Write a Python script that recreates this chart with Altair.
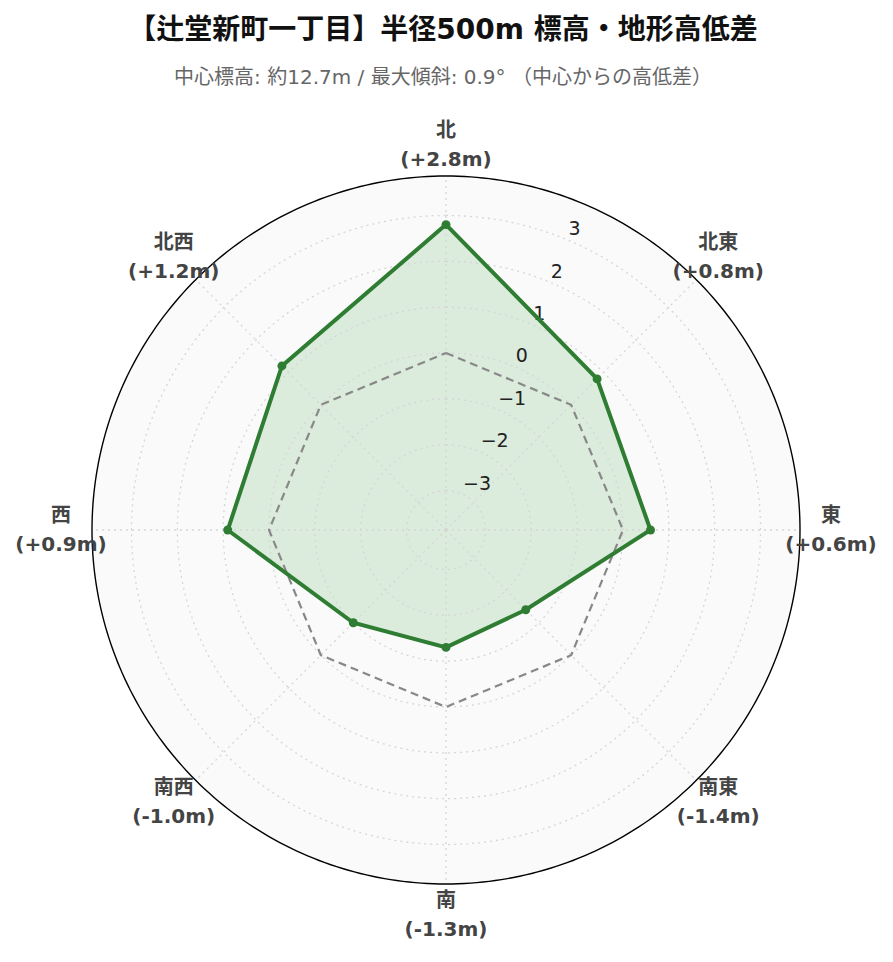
import altair as alt
import pandas as pd

# ---- data ----
directions = ["北", "北東", "東", "南東", "南", "南西", "西", "北西"]
heights = [2.8, 0.8, 0.6, -1.4, -1.3, -1.0, 0.9, 1.2]
radial_ticks = [-3, -2, -1, 0, 1, 2, 3]
radial_tick_labels = ["−3", "−2", "−1", "0", "1", "2", "3"]
title_text = "【辻堂新町一丁目】半径500m 標高・地形高低差"
subtitle_text = "中心標高: 約12.7m / 最大傾斜: 0.9° （中心からの高低差）"

# ---- polar frame ----
R_MIN, R_MAX = -3.86, 3.86
SPAN = R_MAX - R_MIN
SIZE = 708
LABEL_R = SPAN * 385 / 354
TICK_ANGLE = 22.5
GREEN = "#2e7d32"

dir_df = pd.DataFrame({"dir": directions, "value": heights, "idx": list(range(len(directions)))})
dir_df["angle"] = dir_df["idx"] * 360 / len(directions)
dir_df["label"] = [f"{d}\n({v:+.1f}m)" for d, v in zip(directions, heights)]
closed = pd.concat([dir_df, dir_df.iloc[[0]].assign(idx=len(directions))], ignore_index=True)

grid_df = pd.DataFrame(
    [{"g": g, "a": a} for g in radial_ticks for a in range(0, 361, 2)]
)
rim_df = pd.DataFrame({"a": list(range(0, 361, 1))})
tick_df = pd.DataFrame({"t": radial_ticks, "lab": radial_tick_labels})

sx = alt.Scale(domain=[-SPAN, SPAN], nice=False, zero=False)
sy = alt.Scale(domain=[-SPAN, SPAN], nice=False, zero=False)
X = alt.X("x:Q", scale=sx, axis=None)
Y = alt.Y("y:Q", scale=sy, axis=None)


def polar(chart, rexpr, aexpr):
    return chart.transform_calculate(
        x=f"({rexpr}) * sin(({aexpr}) * PI / 180)",
        y=f"({rexpr}) * cos(({aexpr}) * PI / 180)",
    )


disk = polar(alt.Chart(rim_df), str(SPAN), "datum.a").mark_line(
    fill="#fafafa", stroke="#000000", strokeWidth=1.4
).encode(x=X, y=Y, order="a:Q")

fill = polar(alt.Chart(closed), f"datum.value - ({R_MIN})", "datum.angle").mark_line(
    fill="#43a047", fillOpacity=0.17, strokeOpacity=0
).encode(x=X, y=Y, order="idx:Q")

grid = polar(alt.Chart(grid_df), f"datum.g - ({R_MIN})", "datum.a").mark_line(
    color="#d6d6d6", strokeDash=[2, 4], strokeWidth=1.3
).encode(x=X, y=Y, detail="g:N", order="a:Q")

spokes = alt.Chart(dir_df).transform_calculate(
    x="0", y="0",
    x2=f"{SPAN} * sin(datum.angle * PI / 180)",
    y2=f"{SPAN} * cos(datum.angle * PI / 180)",
).mark_rule(color="#d6d6d6", strokeDash=[2, 4], strokeWidth=1.3).encode(
    x=X, y=Y, x2="x2:Q", y2="y2:Q"
)

zero = polar(alt.Chart(closed), f"0 - ({R_MIN})", "datum.angle").mark_line(
    color="#888888", strokeDash=[8, 5], strokeWidth=2.2
).encode(x=X, y=Y, order="idx:Q")

tick_labels = polar(alt.Chart(tick_df), f"datum.t - ({R_MIN})", str(TICK_ANGLE)).mark_text(
    align="left", baseline="middle", dx=2, dy=-10, fontSize=19,
    font="DejaVu Sans", color="#222222"
).encode(x=X, y=Y, text="lab:N")

line = polar(alt.Chart(closed), f"datum.value - ({R_MIN})", "datum.angle").mark_line(
    color=GREEN, strokeWidth=4
).encode(x=X, y=Y, order="idx:Q")

points = polar(alt.Chart(dir_df), f"datum.value - ({R_MIN})", "datum.angle").mark_circle(
    color=GREEN, size=80, opacity=1
).encode(x=X, y=Y)

angle_labels = polar(alt.Chart(dir_df), str(LABEL_R), "datum.angle").mark_text(
    align="center", baseline="middle", lineBreak="\n", lineHeight=29, dy=-14.5,
    font="DejaVu Sans, Noto Sans CJK JP", fontWeight="bold", fontSize=20,
    color="#444444"
).encode(x=X, y=Y, text="label:N")

chart = alt.layer(
    disk, fill, grid, spokes, zero, tick_labels, line, points, angle_labels
).properties(
    width=SIZE, height=SIZE,
    background="white",
    autosize=alt.AutoSizeParams(type="none"),
    padding={"left": 84, "top": 168, "right": 85, "bottom": 70},
    title=alt.Title(
        text=title_text, subtitle=subtitle_text, anchor="middle",
        font="DejaVu Sans, Noto Sans CJK JP", fontSize=28, fontWeight="bold",
        color="#111111", subtitleFont="DejaVu Sans, Noto Sans CJK JP",
        subtitleFontSize=20, subtitleColor="#666666", subtitlePadding=23,
        offset=33, dx=-3,
    ),
).configure_view(stroke=None)

chart.save("out.html", embed_options={"renderer": "svg", "actions": False})
